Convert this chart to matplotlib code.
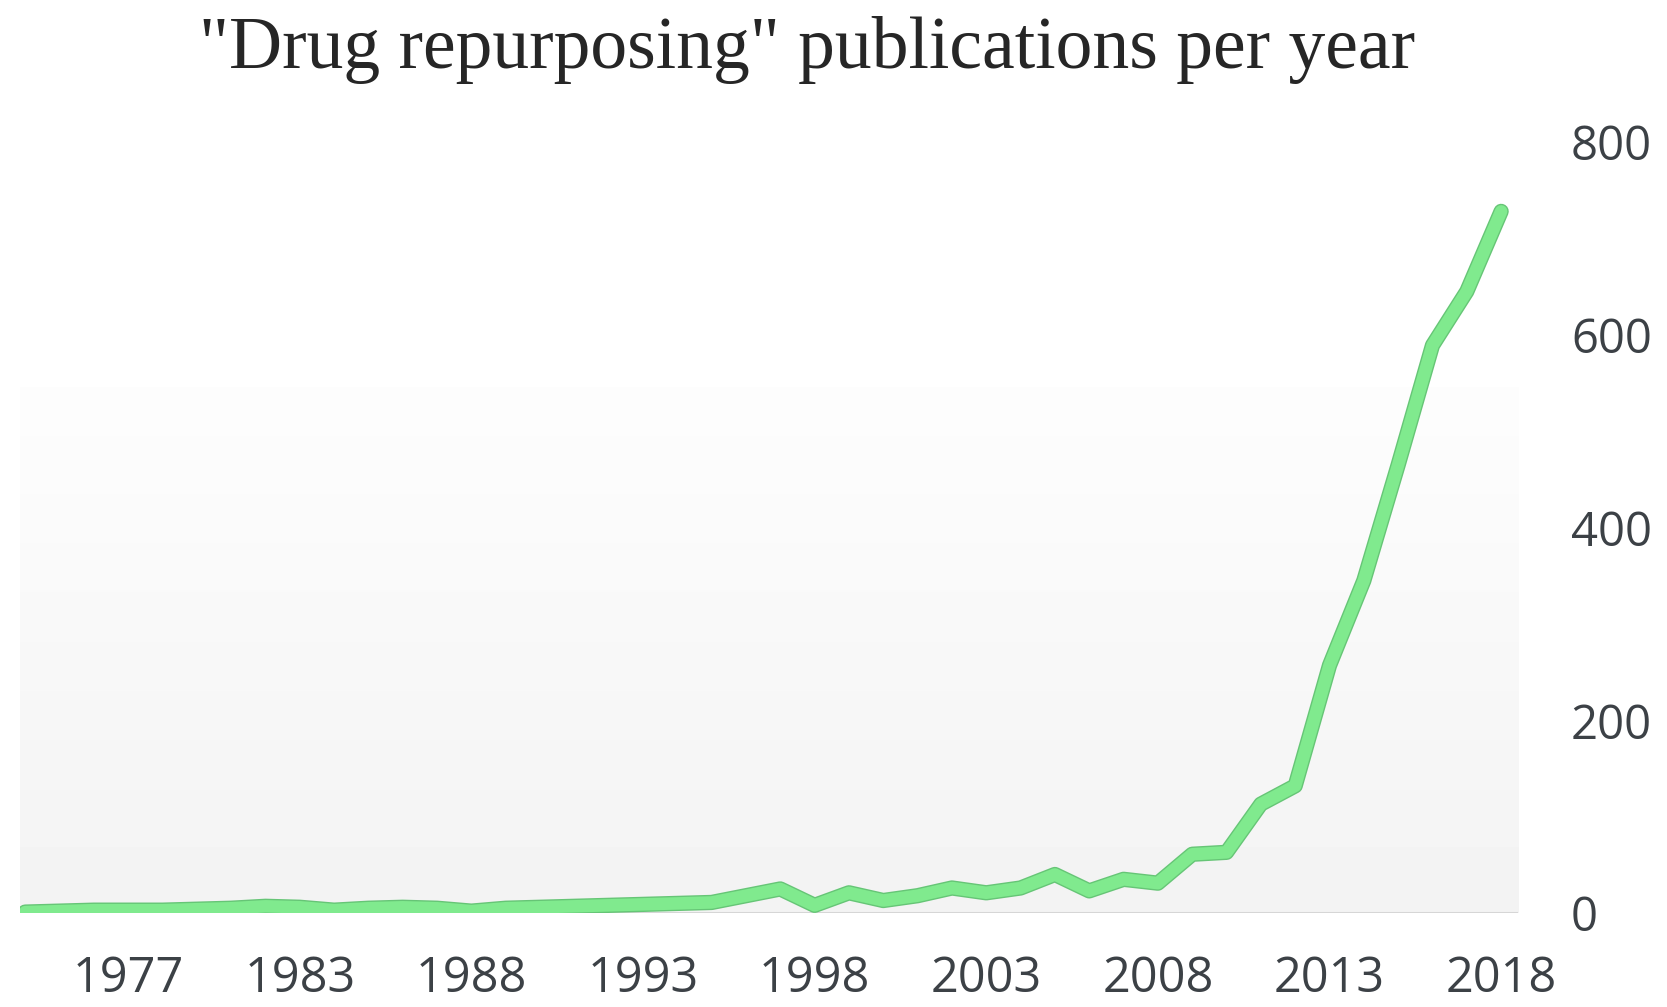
#<------------------------------------------------ Imports ------------------------------------------------>
import numpy as np
import matplotlib
matplotlib.use("Agg")
import matplotlib.pyplot as plt
import matplotlib.patheffects as pe

#<------------------------------------------------- Data -------------------------------------------------->
# categories on the axis (1979 is not in the source series)
years = [1974, 1975, 1976, 1977, 1978, 1980, 1981, 1982, 1983, 1984, 1985, 1986, 1987, 1988,
         1989, 1990, 1991, 1992, 1993, 1994, 1995, 1996, 1997, 1998, 1999, 2000, 2001, 2002,
         2003, 2004, 2005, 2006, 2007, 2008, 2009, 2010, 2011, 2012, 2013, 2014, 2015, 2016,
         2017, 2018]
publications = [1, 2, 3, 3, 3, 4, 5, 7, 6, 3, 5, 6, 5, 2, 5, 6, 7, 8, 9, 10, 11, 18, 25, 8,
                21, 13, 18, 26, 21, 26, 40, 23, 35, 31, 61, 63, 113, 132, 257, 345, 465, 589,
                645, 728]
tick_years = [1977, 1983, 1988, 1993, 1998, 2003, 2008, 2013, 2018]
y_ticks = [0, 200, 400, 600, 800]

title = '"Drug repurposing" publications per year'

#<------------------------------------------------- Plot -------------------------------------------------->
fig = plt.figure(figsize=(16.67, 10.07), dpi=100)
fig.patch.set_facecolor("white")
ax = fig.add_axes([0.012, 0.0933, 0.8988, 0.7657])

x = np.arange(len(years))
ax.set_xlim(-0.15, len(years) - 0.5)
ax.set_ylim(0, 800)

# faint grey fill in the lower part of the plot area
grad = np.linspace(0.952, 0.992, 64).reshape(-1, 1)
ax.imshow(grad, cmap="gray", vmin=0, vmax=1, aspect="auto", origin="lower",
          extent=(-0.15, len(years) - 0.5, 0, 545), zorder=0)

ax.axhline(0, color="#d6d6d6", lw=2.2, zorder=1)

ax.plot(x, publications, color="#80ea8e", lw=9, solid_joinstyle="round",
        solid_capstyle="round", zorder=3,
        path_effects=[pe.Stroke(linewidth=11, foreground="#66c576"), pe.Normal()])

for s in ax.spines.values():
    s.set_visible(False)

tick_pos = [years.index(y) for y in tick_years]
ax.set_xticks(tick_pos)
ax.set_xticklabels([str(y) for y in tick_years], family=["Liberation Sans Narrow", "Open Sans"],
                   fontsize=35, color="#3c4146")
ax.tick_params(axis="x", length=0, pad=30)

ax.yaxis.tick_right()
ax.set_yticks(y_ticks)
ax.set_yticklabels([str(v) for v in y_ticks], family=["Open Sans", "DejaVu Sans"],
                   fontsize=34, color="#3c4146")
ax.tick_params(axis="y", length=0, pad=38)

fig.text(0.484, 0.95, title, ha="center", va="center", family=["Liberation Serif", "DejaVu Serif"],
         fontsize=53, color="#262626")

fig.savefig("out.png", dpi=100, facecolor="white")
